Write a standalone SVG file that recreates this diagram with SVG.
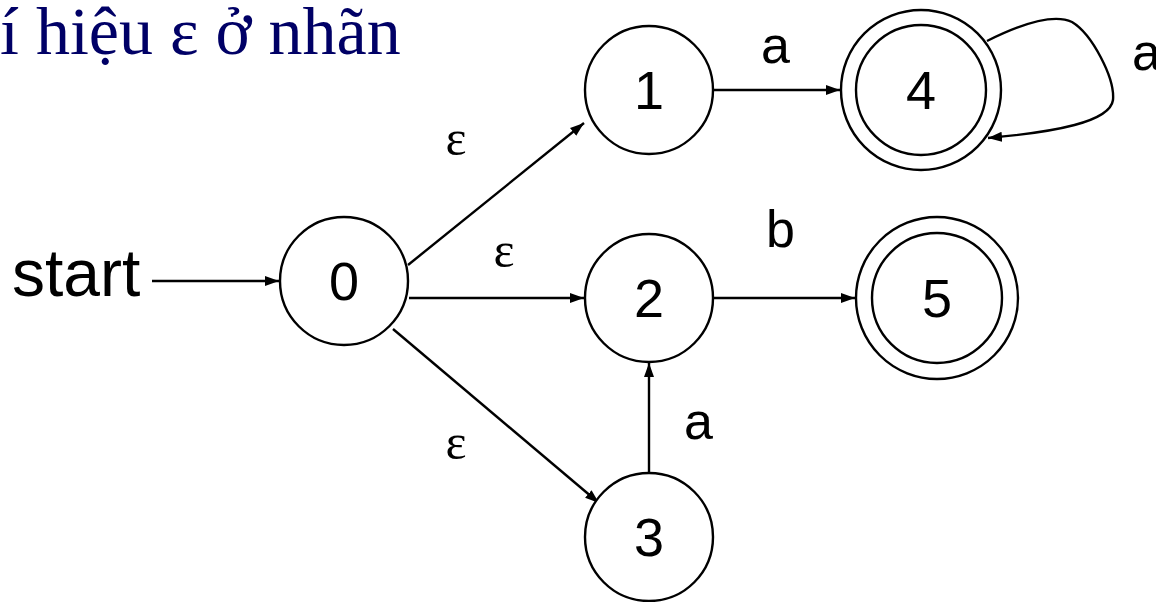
<svg xmlns="http://www.w3.org/2000/svg" width="1156" height="602" viewBox="0 0 1156 602">
<style>
.st{fill:#fff;stroke:#000;stroke-width:2.4}
.lbl{font-family:"Liberation Sans",Arial,sans-serif;font-size:54px;fill:#000;text-anchor:middle}
.el{font-family:"Liberation Sans",Arial,sans-serif;font-size:52px;fill:#000}
.eps{font-family:"Liberation Serif","Times New Roman",serif;font-size:50px;fill:#000;text-anchor:middle}
.e{fill:none;stroke:#000;stroke-width:2.4;marker-end:url(#ah)}
.title{font-family:"Liberation Serif","Times New Roman",serif;font-size:68px;fill:#000066}
</style>
<defs>
<marker id="ah" markerUnits="userSpaceOnUse" markerWidth="15" markerHeight="11" refX="14" refY="5.5" orient="auto">
<path d="M0,0.5 L14,5.5 L0,10.5 z" fill="#000"/>
</marker>
</defs>
<rect width="1156" height="602" fill="#fff"/>
<text class="title" x="0" y="54">í hiệu ε ở nhãn</text>
<g id="edges">
<path class="e" d="M152,281 L279,281"/>
<path class="e" d="M408,265 L584,123"/>
<path class="e" d="M409,298 L584,298"/>
<path class="e" d="M393,329 L599,503"/>
<path class="e" d="M713,90 L840,90"/>
<path class="e" d="M713,298 L855,298"/>
<path class="e" d="M649,473 L649,363"/>
<path class="e" d="M987,41 C1025,22 1055,14 1072,22 C1092,34 1115,78 1113,100 C1110,122 1055,132 988,138"/>
</g>
<g id="edge-labels">
<text class="el" x="12" y="296" style="font-size:66px">start</text>
<text class="eps" x="456" y="155">ε</text>
<text class="eps" x="504" y="267">ε</text>
<text class="eps" x="456" y="459">ε</text>
<text class="el" x="761" y="63">a</text>
<text class="el" x="766" y="247">b</text>
<text class="el" x="684" y="439">a</text>
<text class="el" x="1132" y="70">a</text>
</g>
<g id="node0"><circle class="st" cx="344" cy="281" r="64"/><text class="lbl" x="344" y="300">0</text></g>
<g id="node1"><circle class="st" cx="649" cy="90" r="64"/><text class="lbl" x="649" y="109">1</text></g>
<g id="node2"><circle class="st" cx="649" cy="298" r="64"/><text class="lbl" x="649" y="317">2</text></g>
<g id="node3"><circle class="st" cx="649" cy="537" r="64"/><text class="lbl" x="649" y="556">3</text></g>
<g id="node4"><circle class="st" cx="921" cy="90" r="80"/><circle class="st" cx="921" cy="90" r="65"/><text class="lbl" x="921" y="109">4</text></g>
<g id="node5"><circle class="st" cx="937" cy="298" r="81"/><circle class="st" cx="937" cy="298" r="65"/><text class="lbl" x="937" y="317">5</text></g>
</svg>
